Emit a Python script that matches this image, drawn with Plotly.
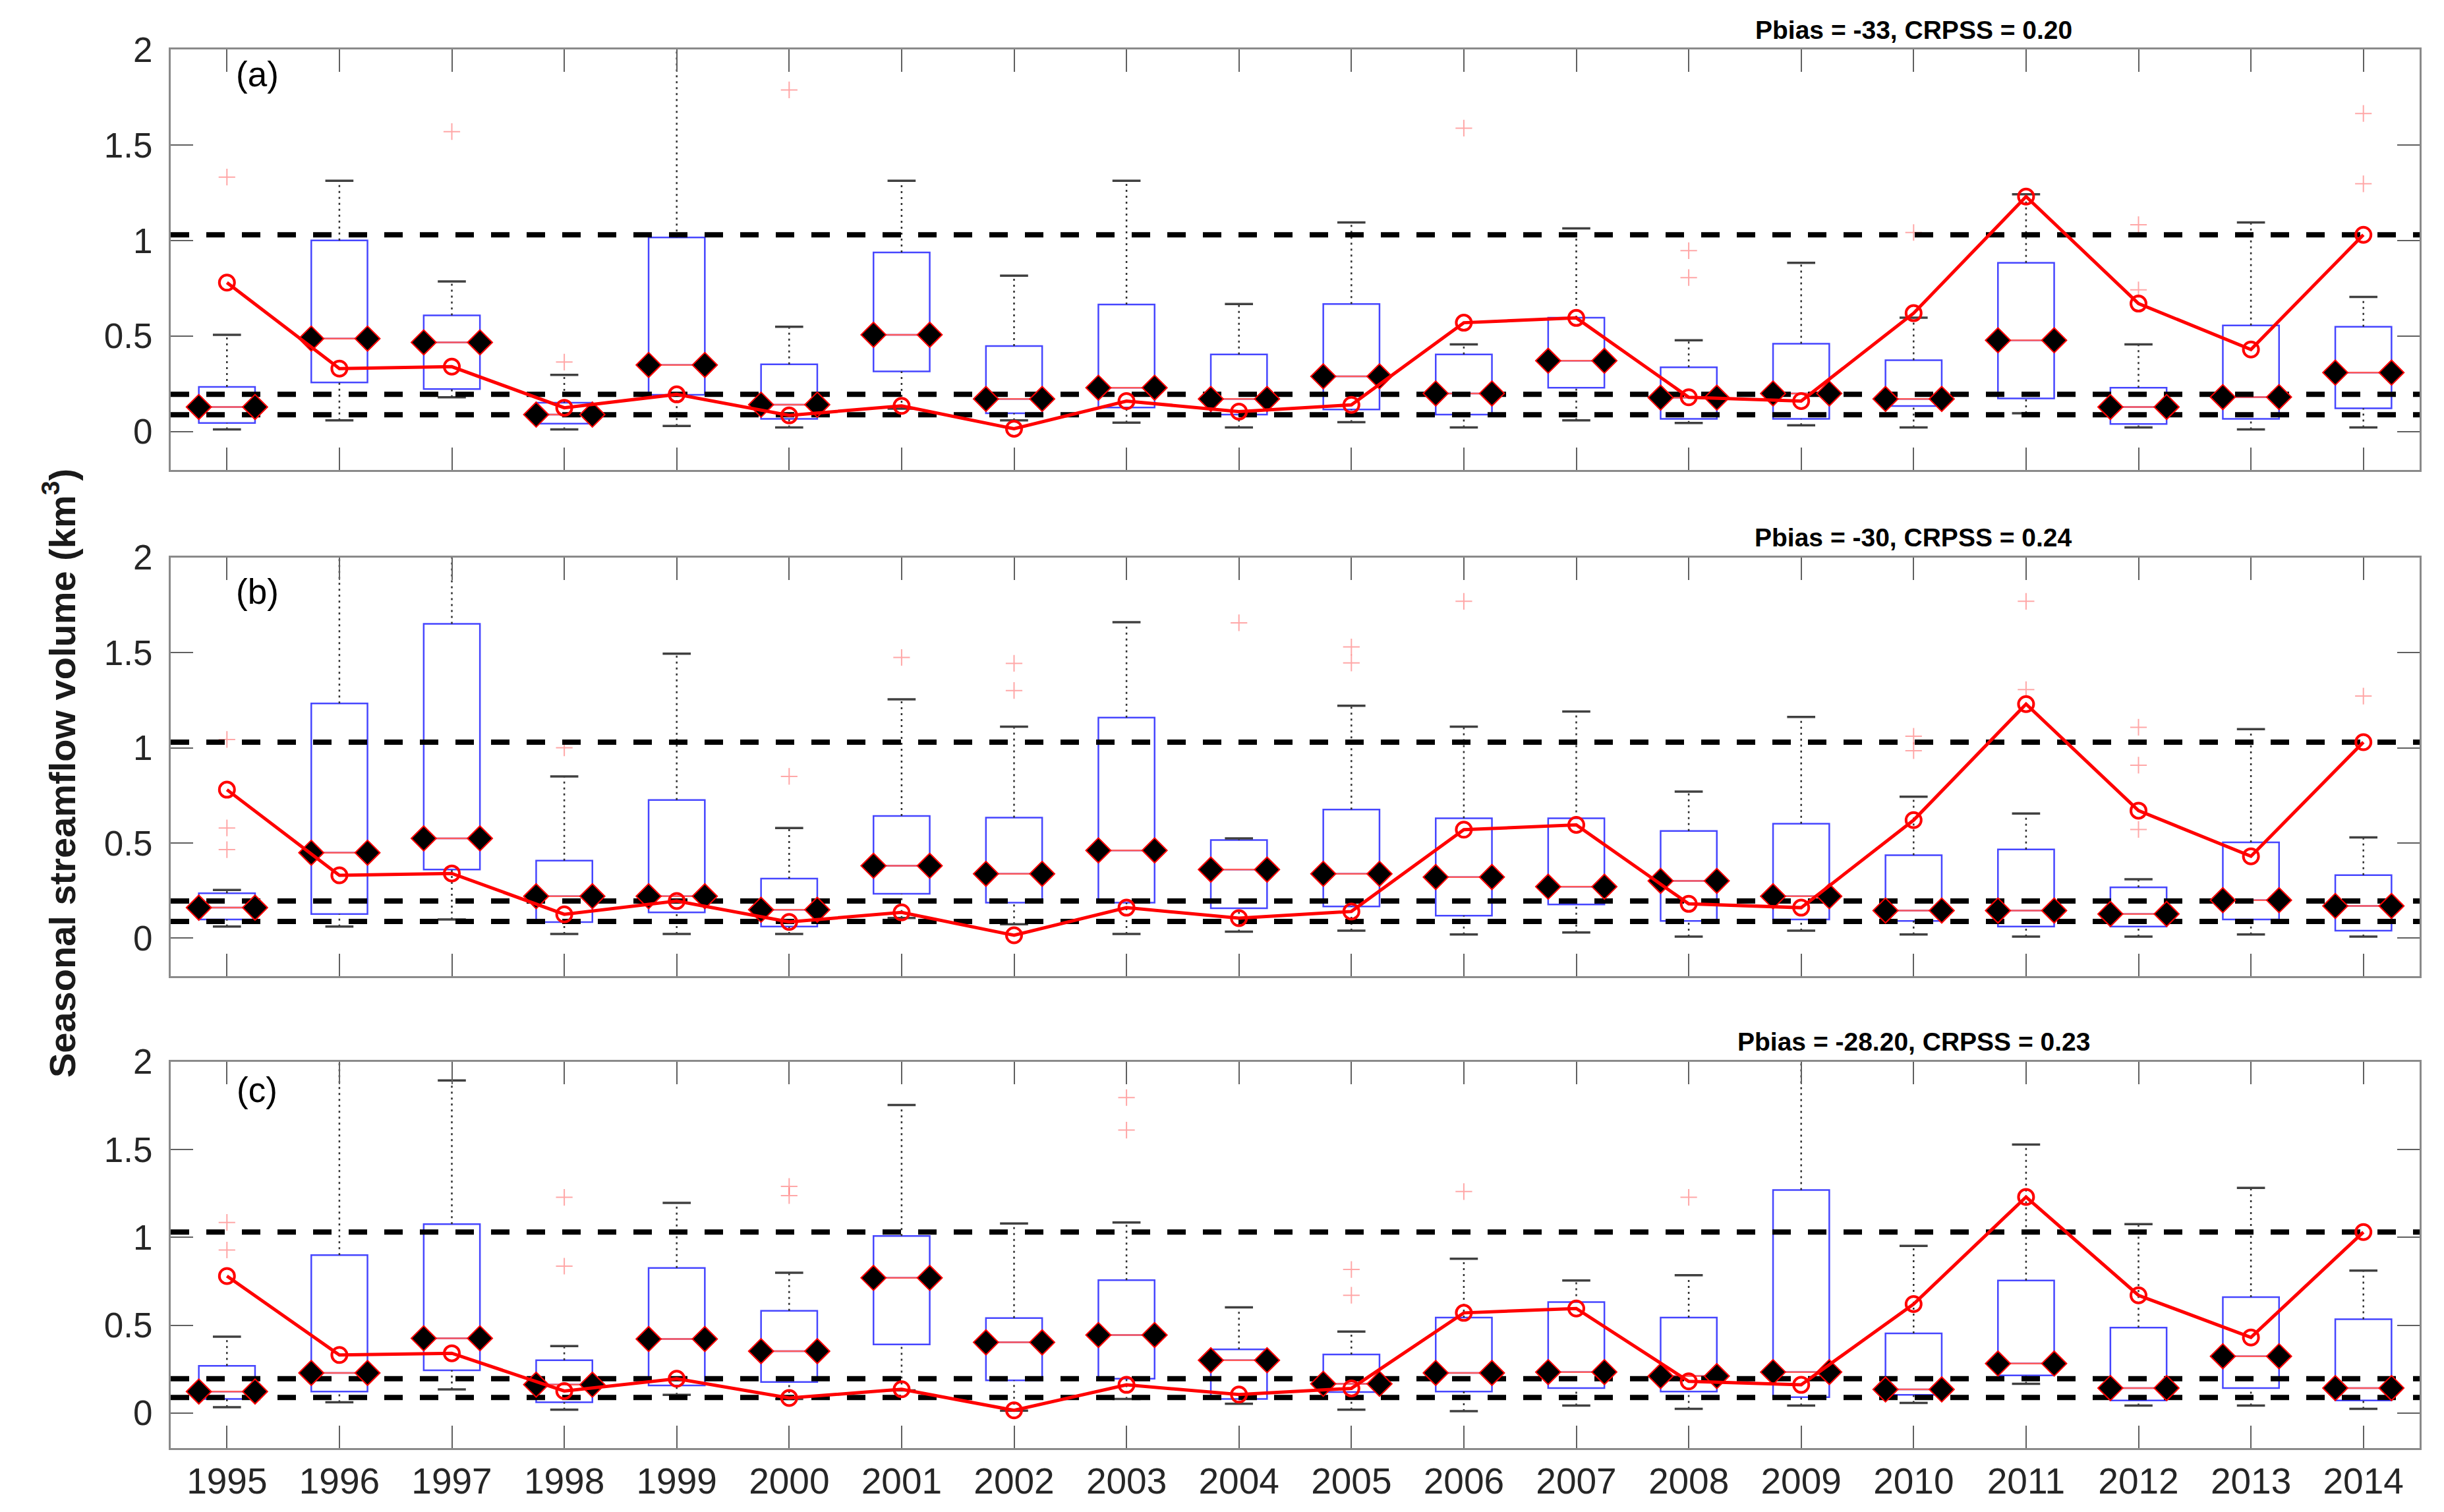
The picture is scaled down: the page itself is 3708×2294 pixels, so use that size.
import plotly.graph_objects as go
from plotly.subplots import make_subplots

years = list(range(1995, 2015))

# observed seasonal volume (same in all panels)
observed = [0.78, 0.33, 0.34, 0.125, 0.195, 0.085, 0.135, 0.015, 0.16, 0.105,
            0.14, 0.57, 0.595, 0.18, 0.16, 0.62, 1.23, 0.67, 0.43, 1.03]

# climatology reference levels (dashed lines)
ref_levels = [1.03, 0.195, 0.088]

# panel (a)
q1_a = [0.045, 0.257, 0.223, 0.042, 0.193, 0.067, 0.315, 0.096, 0.126, 0.089,
        0.116, 0.089, 0.230, 0.067, 0.067, 0.134, 0.174, 0.040, 0.067, 0.122]
med_a = [0.129, 0.487, 0.467, 0.089, 0.349, 0.141, 0.507, 0.171, 0.230, 0.171,
         0.289, 0.200, 0.371, 0.178, 0.200, 0.171, 0.478, 0.129, 0.181, 0.309]
q3_a = [0.234, 1.001, 0.608, 0.151, 1.016, 0.352, 0.938, 0.448, 0.665, 0.404,
        0.668, 0.404, 0.596, 0.337, 0.460, 0.374, 0.883, 0.230, 0.556, 0.549]
lo_a = [0.012, 0.059, 0.180, 0.012, 0.030, 0.022, 0.120, 0.059, 0.047, 0.022,
        0.050, 0.022, 0.059, 0.045, 0.033, 0.022, 0.096, 0.022, 0.012, 0.022]
hi_a = [0.507, 1.313, 0.786, 0.297, 2.100, 0.549, 1.313, 0.816, 1.313, 0.668,
        1.095, 0.457, 1.064, 0.478, 0.883, 0.596, 1.242, 0.457, 1.095, 0.705]
out_x_a = [1995, 1997, 1998, 2000, 2006, 2008, 2008, 2010, 2012, 2012, 2014, 2014]
out_y_a = [1.332, 1.570, 0.364, 1.788, 1.588, 0.947, 0.806, 1.042, 1.083, 0.742, 1.665, 1.297]

# panel (b)
q1_b = [0.098, 0.127, 0.360, 0.084, 0.135, 0.061, 0.233, 0.186, 0.186, 0.157,
        0.166, 0.118, 0.177, 0.090, 0.098, 0.090, 0.061, 0.061, 0.098, 0.039]
med_b = [0.160, 0.449, 0.524, 0.220, 0.220, 0.149, 0.380, 0.338, 0.461, 0.360,
         0.338, 0.321, 0.270, 0.301, 0.220, 0.145, 0.145, 0.127, 0.199, 0.169]
q3_b = [0.236, 1.233, 1.652, 0.407, 0.726, 0.313, 0.642, 0.633, 1.159, 0.515,
        0.676, 0.630, 0.630, 0.563, 0.601, 0.436, 0.466, 0.267, 0.503, 0.331]
lo_b = [0.061, 0.061, 0.098, 0.022, 0.022, 0.022, 0.106, 0.073, 0.022, 0.034,
        0.039, 0.019, 0.030, 0.008, 0.039, 0.019, 0.008, 0.008, 0.019, 0.008]
hi_b = [0.253, 2.100, 2.100, 0.850, 1.495, 0.579, 1.255, 1.111, 1.660, 0.524,
        1.221, 1.111, 1.191, 0.770, 1.162, 0.743, 0.655, 0.309, 1.098, 0.529]
out_x_b = [1995, 1995, 1995, 1998, 2000, 2001, 2002, 2002, 2004, 2005,
           2005, 2006, 2010, 2010, 2011, 2011, 2012, 2012, 2012, 2014]
out_y_b = [1.044, 0.579, 0.465, 1.000, 0.850, 1.475, 1.444, 1.301, 1.657, 1.530,
           1.446, 1.770, 1.061, 0.985, 1.770, 1.306, 1.108, 0.909, 0.571, 1.272]

# panel (c)
q1_c = [0.080, 0.122, 0.243, 0.061, 0.157, 0.176, 0.390, 0.186, 0.195, 0.080,
        0.119, 0.122, 0.142, 0.122, 0.090, 0.103, 0.214, 0.071, 0.142, 0.071]
med_c = [0.122, 0.228, 0.425, 0.161, 0.421, 0.352, 0.769, 0.402, 0.444, 0.300,
         0.166, 0.228, 0.233, 0.210, 0.233, 0.134, 0.281, 0.142, 0.323, 0.142]
q3_c = [0.268, 0.899, 1.075, 0.300, 0.826, 0.582, 1.008, 0.540, 0.756, 0.362,
        0.333, 0.543, 0.631, 0.543, 1.270, 0.453, 0.754, 0.486, 0.660, 0.534]
lo_c = [0.033, 0.061, 0.134, 0.019, 0.103, 0.080, 0.128, 0.013, 0.080, 0.052,
        0.019, 0.010, 0.042, 0.023, 0.042, 0.057, 0.166, 0.042, 0.042, 0.023]
hi_c = [0.434, 2.100, 1.894, 0.381, 1.196, 0.798, 1.754, 1.079, 1.085, 0.601,
        0.463, 0.878, 0.754, 0.784, 2.100, 0.951, 1.529, 1.075, 1.282, 0.811]
out_x_c = [1995, 1995, 1998, 1998, 2000, 2000, 2003, 2003, 2005, 2005, 2006, 2008]
out_y_c = [1.085, 0.928, 1.228, 0.836, 1.290, 1.238, 1.796, 1.611, 0.817, 0.670, 1.261, 1.228]

panel_labels = ["(a)", "(b)", "(c)"]
panel_label_y = [1.87, 1.82, 1.84]
scores = ["Pbias = -33, CRPSS = 0.20",
          "Pbias = -30, CRPSS = 0.24",
          "Pbias = -28.20, CRPSS = 0.23"]

y_ticks = [0, 0.5, 1, 1.5, 2]
y_tick_text = ["0", "0.5", "1", "1.5", "2"]

BOX_W = 0.5
CAP_W = 0.25
X_RANGE = [1994.5, 2014.5]
FONT = "Liberation Sans, Arial, sans-serif"

fig = make_subplots(rows=3, cols=1)


def add_panel(row, q1, med, q3, lo, hi, out_x, out_y):
    # box outlines (no whiskers; whiskers drawn dotted below)
    fig.add_trace(go.Box(
        x=years, q1=q1, median=med, q3=q3,
        lowerfence=q1, upperfence=q3,
        width=BOX_W, whiskerwidth=0,
        fillcolor="rgba(0,0,0,0)",
        line=dict(color="rgb(70,70,255)", width=2.5),
        boxpoints=False, showlegend=False
    ), row=row, col=1)

    # dotted whiskers
    wx, wy = [], []
    for yr, a, b, c, d in zip(years, lo, q1, q3, hi):
        wx += [yr, yr, None, yr, yr, None]
        wy += [a, b, None, c, d, None]
    fig.add_trace(go.Scatter(
        x=wx, y=wy, mode="lines",
        line=dict(color="#303030", width=2.5, dash="3px,6px"),
        showlegend=False, hoverinfo="skip"
    ), row=row, col=1)

    # whisker caps
    cx, cy = [], []
    for yr, a, d in zip(years, lo, hi):
        cx += [yr - CAP_W / 2, yr + CAP_W / 2, None, yr - CAP_W / 2, yr + CAP_W / 2, None]
        cy += [a, a, None, d, d, None]
    fig.add_trace(go.Scatter(
        x=cx, y=cy, mode="lines",
        line=dict(color="#404040", width=3.5),
        showlegend=False, hoverinfo="skip"
    ), row=row, col=1)

    # red medians
    mx, my = [], []
    for yr, m in zip(years, med):
        mx += [yr - BOX_W / 2, yr + BOX_W / 2, None]
        my += [m, m, None]
    fig.add_trace(go.Scatter(
        x=mx, y=my, mode="lines",
        line=dict(color="rgb(255,90,90)", width=2.5),
        showlegend=False, hoverinfo="skip"
    ), row=row, col=1)

    # outliers
    fig.add_trace(go.Scatter(
        x=out_x, y=out_y, mode="markers",
        marker=dict(symbol="cross-thin-open", size=18,
                    color="rgba(255,80,80,0.5)",
                    line=dict(color="rgba(255,80,80,0.5)", width=2)),
        showlegend=False
    ), row=row, col=1)

    # reference levels
    for lvl in ref_levels:
        fig.add_trace(go.Scatter(
            x=X_RANGE, y=[lvl, lvl], mode="lines",
            line=dict(color="black", width=8, dash="28px,26px"),
            showlegend=False, hoverinfo="skip"
        ), row=row, col=1)

    # diamonds at box edges on the median
    dx = [yr - BOX_W / 2 for yr in years] + [yr + BOX_W / 2 for yr in years]
    fig.add_trace(go.Scatter(
        x=dx, y=med + med, mode="markers",
        marker=dict(symbol="diamond", size=29, color="black",
                    line=dict(color="red", width=2)),
        showlegend=False
    ), row=row, col=1)

    # observed
    fig.add_trace(go.Scatter(
        x=years, y=observed, mode="lines+markers",
        line=dict(color="red", width=5),
        marker=dict(symbol="circle-open", size=23, color="red",
                    line=dict(color="red", width=4)),
        showlegend=False
    ), row=row, col=1)


add_panel(1, q1_a, med_a, q3_a, lo_a, hi_a, out_x_a, out_y_a)
add_panel(2, q1_b, med_b, q3_b, lo_b, hi_b, out_x_b, out_y_b)
add_panel(3, q1_c, med_c, q3_c, lo_c, hi_c, out_x_c, out_y_c)

domains = [[0.6994, 1.0], [0.3374, 0.6367], [0.0, 0.2762]]

for i in range(3):
    row = i + 1
    fig.update_xaxes(
        range=X_RANGE, tickvals=years, ticktext=[str(y) for y in years],
        showticklabels=(row == 3),
        ticks="inside", ticklen=34, tickwidth=2, tickcolor="#606060",
        showline=True, linecolor="#8a8a8a", linewidth=3, mirror="ticks",
        showgrid=False, zeroline=False,
        tickfont=dict(family=FONT, size=55, color="#262626"),
        ticklabelstandoff=0,
        row=row, col=1
    )
    fig.update_yaxes(
        range=[-0.2, 2], tickvals=y_ticks, ticktext=y_tick_text,
        ticks="inside", ticklen=34, tickwidth=2, tickcolor="#606060",
        showline=True, linecolor="#8a8a8a", linewidth=3, mirror="ticks",
        showgrid=False, zeroline=False,
        tickfont=dict(family=FONT, size=53, color="#262626"),
        ticklabelstandoff=14,
        domain=domains[i],
        row=row, col=1
    )
    yref = "y" if row == 1 else "y%d" % row
    xref = "x" if row == 1 else "x%d" % row
    fig.add_annotation(
        x=1995.27, y=panel_label_y[i], xref=xref, yref=yref,
        text=panel_labels[i], showarrow=False,
        font=dict(family=FONT, size=53, color="black")
    )
    fig.add_annotation(
        x=2010, y=1, xref=xref, yref=yref + " domain",
        text="<b>" + scores[i] + "</b>", showarrow=False,
        yanchor="middle", yshift=30,
        font=dict(family=FONT, size=39, color="black")
    )

fig.add_annotation(
    x=-0.0492, y=0.4826, xref="paper", yref="paper",
    text="<b>Seasonal streamflow volume (km<sup>3</sup>)</b>",
    textangle=-90, showarrow=False, xanchor="center", yanchor="middle",
    font=dict(family=FONT, size=56, color="#1a1a1a")
)

fig.update_layout(
    width=3708, height=2294,
    margin=dict(l=251, r=45, t=67, b=105),
    plot_bgcolor="white", paper_bgcolor="white",
    showlegend=False
)

fig.write_html("out.html")
